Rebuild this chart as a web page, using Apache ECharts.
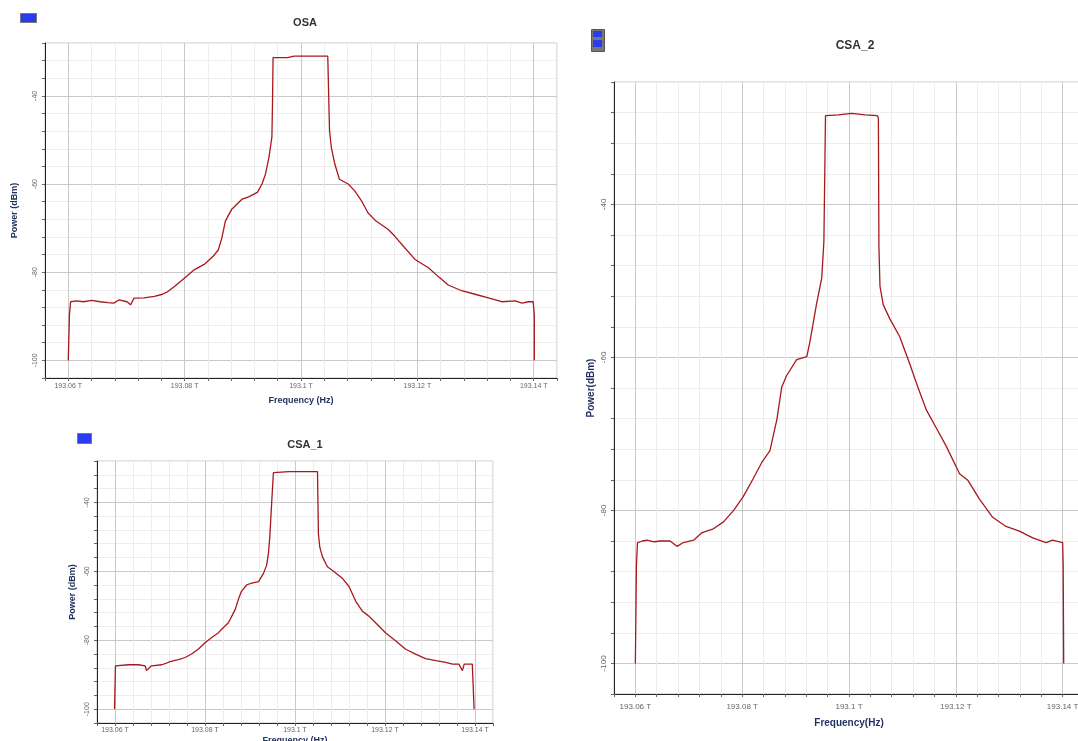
<!DOCTYPE html>
<html>
<head>
<meta charset="utf-8">
<script src="https://cdn.jsdelivr.net/npm/echarts@6/dist/echarts.min.js"></script>
<style>
html, body { margin: 0; padding: 0; background: #fff; }
#main { width: 1078px; height: 741px; }
</style>
</head>
<body>
<div id="main"></div>
<script>
// 频率单位 GHz, 功率单位 dBm

// OSA
const osaFreq = [193060.0, 193060.2, 193060.4, 193061.5, 193062.6, 193064.0, 193065.5, 193066.8, 193067.8, 193068.7, 193070.1, 193070.7, 193071.3, 193073.0, 193074.8, 193076.2, 193077.1, 193078.3, 193080.0, 193081.7, 193083.5, 193084.9, 193085.8, 193086.4, 193087.0, 193088.1, 193089.9, 193091.0, 193092.5, 193093.3, 193093.9, 193094.5, 193095.0, 193095.1, 193095.2, 193097.7, 193098.8, 193102.6, 193104.6, 193104.7, 193104.9, 193105.2, 193105.8, 193106.6, 193108.1, 193109.2, 193110.4, 193111.5, 193112.9, 193115.0, 193116.1, 193117.6, 193119.6, 193121.9, 193123.6, 193125.3, 193127.6, 193129.9, 193132.2, 193134.5, 193136.8, 193138.0, 193139.1, 193139.9, 193140.1, 193140.1];
const osaPower = [-100, -89.7, -86.7, -86.5, -86.7, -86.4, -86.7, -86.9, -87.0, -86.3, -86.7, -87.4, -85.9, -85.8, -85.5, -85.0, -84.4, -83.2, -81.3, -79.4, -78.1, -76.4, -74.9, -72.2, -68.4, -65.7, -63.4, -62.9, -61.9, -60.0, -57.7, -53.9, -49.3, -41.7, -31.3, -31.3, -31.0, -31.0, -31.0, -31.3, -47.8, -51.6, -55.4, -58.9, -60.0, -61.5, -63.8, -66.5, -68.4, -70.3, -71.8, -74.1, -77.1, -79.0, -81.0, -82.9, -84.2, -85.0, -85.8, -86.7, -86.5, -87.0, -86.7, -86.7, -89.7, -100];

// CSA_1
const csa1Freq = [193059.9, 193060.1, 193060.4, 193063.0, 193065.2, 193066.7, 193067.0, 193067.4, 193068.1, 193070.4, 193071.5, 193072.2, 193074.1, 193075.6, 193077.0, 193078.5, 193080.0, 193081.5, 193083.0, 193083.7, 193085.2, 193086.7, 193087.4, 193088.1, 193089.3, 193090.4, 193091.9, 193093.0, 193093.7, 193094.1, 193094.4, 193094.8, 193095.2, 193095.6, 193098.7, 193105.0, 193105.1, 193105.2, 193105.5, 193106.1, 193107.2, 193108.7, 193110.5, 193112.0, 193113.5, 193115.0, 193116.4, 193117.9, 193120.1, 193122.4, 193124.6, 193126.8, 193129.0, 193131.3, 193133.5, 193135.0, 193136.4, 193137.2, 193137.6, 193139.4, 193139.6, 193139.8];
const csa1Power = [-100, -87.4, -87.1, -87.1, -87.1, -87.4, -88.8, -88.8, -87.4, -87.1, -86.6, -86.2, -85.6, -85.0, -84.0, -82.6, -80.7, -79.2, -77.8, -76.8, -74.9, -71.1, -68.2, -65.8, -63.9, -63.4, -63.0, -60.6, -58.2, -54.8, -50.0, -40.5, -31.4, -31.1, -31.1, -31.1, -31.1, -49.1, -52.9, -55.8, -58.7, -60.1, -62.0, -64.4, -68.7, -71.6, -73.0, -74.9, -77.8, -80.2, -82.6, -84.0, -85.3, -85.9, -86.4, -86.9, -86.9, -88.8, -86.9, -86.9, -87.4, -100];

// CSA_2
const csa2Freq = [193060.0, 193060.2, 193060.4, 193061.3, 193062.2, 193063.5, 193064.7, 193066.5, 193067.8, 193069.0, 193070.9, 193072.5, 193074.6, 193076.5, 193078.4, 193080.2, 193082.1, 193083.7, 193085.2, 193086.5, 193087.4, 193088.3, 193090.2, 193092.1, 193092.7, 193093.9, 193094.9, 193095.3, 193095.5, 193095.6, 193098.0, 193100.5, 193103.0, 193105.3, 193105.5, 193105.6, 193105.8, 193106.4, 193107.6, 193109.5, 193111.4, 193112.9, 193114.5, 193116.4, 193118.2, 193120.7, 193122.3, 193124.4, 193126.9, 193129.4, 193131.9, 193134.4, 193136.9, 193138.1, 193140.0, 193140.1, 193140.2];
const csa2Power = [-100, -87.2, -84.2, -84.0, -83.9, -84.1, -84.0, -84.0, -84.7, -84.2, -83.9, -82.9, -82.4, -81.5, -80.0, -78.2, -75.8, -73.7, -72.2, -68.1, -63.9, -62.4, -60.3, -59.9, -57.9, -53.1, -49.6, -44.8, -34.0, -28.4, -28.3, -28.1, -28.3, -28.4, -28.7, -45.4, -50.7, -53.1, -54.9, -57.3, -60.9, -63.9, -66.9, -69.3, -71.6, -75.2, -76.1, -78.5, -80.9, -82.1, -82.7, -83.6, -84.2, -83.9, -84.2, -87.2, -100];

const titles = ['OSA', 'CSA_1', 'CSA_2'];

function zip(xs, ys) {
	return xs.map((x, i) => [x, ys[i]]);
}

// 网格线: 每5条一条主线
const gridColors = ['#ededed', '#c9c9c9', '#ededed', '#ededed', '#ededed'];

function xAxisOf(gridIndex, name, nameGap, labelMargin, fontSize) {
	return {
		type: 'value', gridIndex: gridIndex,
		min: 193056, max: 193144, interval: 4,
		name: name, nameLocation: 'middle', nameGap: nameGap,
		nameTextStyle: { color: '#1f2f5e', fontWeight: 'bold', fontSize: fontSize + 2 },
		axisLine: { lineStyle: { color: '#222', width: 1 } },
		axisTick: { show: true, length: 3, lineStyle: { color: '#666' } },
		axisLabel: {
			margin: labelMargin, fontSize: fontSize, color: '#666',
			formatter: v => (v % 20 === 0 ? (v / 1000) + ' T' : '')
		},
		splitLine: { show: true, lineStyle: { color: gridColors, width: 1 } }
	};
}

function yAxisOf(gridIndex, max, name, nameGap, fontSize) {
	return {
		type: 'value', gridIndex: gridIndex,
		min: -104, max: max, interval: 4,
		name: name, nameLocation: 'middle', nameGap: nameGap, nameRotate: 90,
		nameTextStyle: { color: '#1f2f5e', fontWeight: 'bold', fontSize: fontSize + 2 },
		axisLine: { show: true, lineStyle: { color: '#222', width: 1 } },
		axisTick: { show: true, length: 3, lineStyle: { color: '#666' } },
		axisLabel: {
			rotate: 90, margin: 6, fontSize: fontSize, color: '#666',
			formatter: v => (v % 20 === 0 ? String(v) : '')
		},
		splitLine: { show: true, lineStyle: { color: gridColors, width: 1 } }
	};
}

function seriesOf(idx, xs, ys) {
	return {
		type: 'line', xAxisIndex: idx, yAxisIndex: idx,
		data: zip(xs, ys), showSymbol: false, animation: false,
		lineStyle: { color: '#a8181c', width: 1.3 }
	};
}

let myChart = echarts.init(document.getElementById('main'));
myChart.setOption({
	backgroundColor: '#fff',
	animation: false,
	title: [
		{ text: titles[0], left: 300, top: 12, textAlign: 'center', textStyle: { fontSize: 11, fontWeight: 'bold', color: '#333' } },
		{ text: titles[1], left: 300, top: 434, textAlign: 'center', textStyle: { fontSize: 11, fontWeight: 'bold', color: '#333' } },
		{ text: titles[2], left: 850, top: 35, textAlign: 'center', textStyle: { fontSize: 12, fontWeight: 'bold', color: '#333' } }
	],
	grid: [
		{ left: 45, top: 43, width: 512, height: 335, show: true, borderColor: '#c4c4c4', borderWidth: 1, outerBoundsMode: 'none' },
		{ left: 97, top: 461, width: 396, height: 262, show: true, borderColor: '#c4c4c4', borderWidth: 1, outerBoundsMode: 'none' },
		// 右图右边界在画面外
		{ left: 614, top: 82, width: 470, height: 612, show: true, borderColor: '#c4c4c4', borderWidth: 1, outerBoundsMode: 'none' }
	],
	xAxis: [
		xAxisOf(0, 'Frequency (Hz)', 18, 5, 7),
		xAxisOf(1, 'Frequency (Hz)', 13, 4, 7),
		xAxisOf(2, 'Frequency(Hz)', 24, 9, 8)
	],
	yAxis: [
		yAxisOf(0, -28, 'Power (dBm)', 26, 7),
		yAxisOf(1, -28, 'Power (dBm)', 20, 7),
		yAxisOf(2, -24, 'Power(dBm)', 18, 8)
	],
	graphic: [
		{ type: 'rect', left: 20, top: 13, shape: { width: 16, height: 9 }, style: { fill: '#2a3cf0', stroke: '#777', lineWidth: 1 } },
		{ type: 'rect', left: 77, top: 433, shape: { width: 14, height: 10 }, style: { fill: '#2a3cf0', stroke: '#777', lineWidth: 1 } },
		{ type: 'rect', left: 591, top: 29, shape: { width: 13, height: 22 }, style: { fill: '#777', stroke: '#555', lineWidth: 1 } },
		{ type: 'rect', left: 593, top: 31, shape: { width: 9, height: 6 }, style: { fill: '#2a3cf0' } },
		{ type: 'rect', left: 593, top: 40, shape: { width: 9, height: 7 }, style: { fill: '#2a3cf0' } }
	],
	series: [
		seriesOf(0, osaFreq, osaPower),
		seriesOf(1, csa1Freq, csa1Power),
		seriesOf(2, csa2Freq, csa2Power)
	]
});
window.addEventListener('resize', function () {
	myChart.resize();
});
</script>
</body>
</html>
